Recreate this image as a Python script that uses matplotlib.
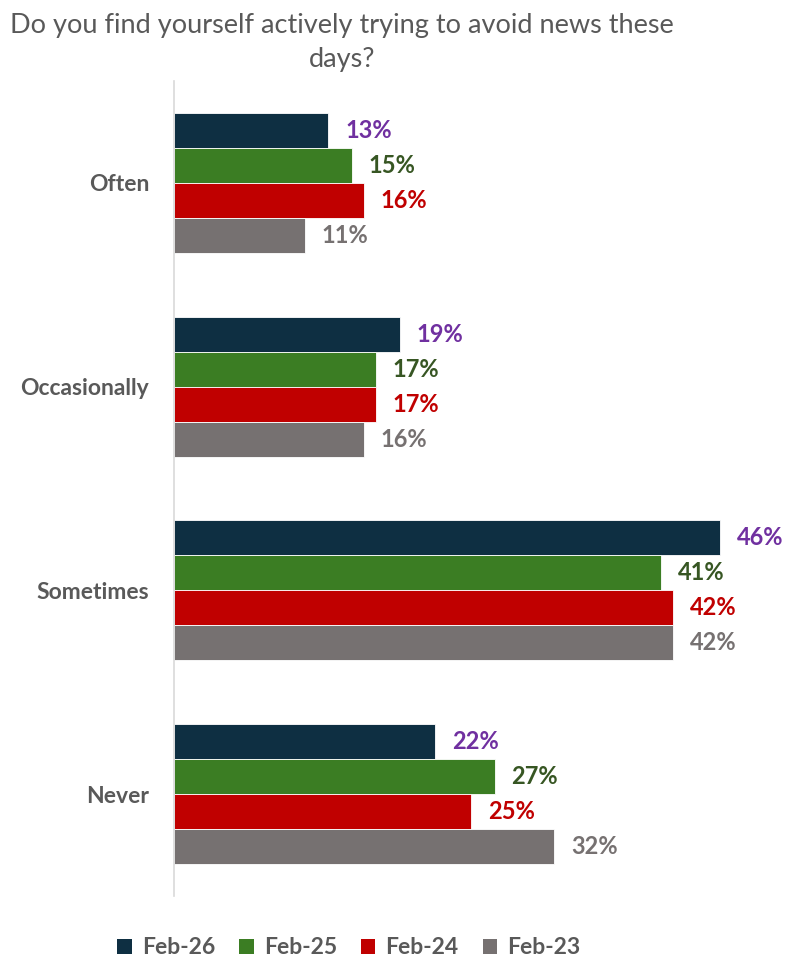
import matplotlib
matplotlib.use("Agg")
import matplotlib.pyplot as plt
from matplotlib.patches import Patch
import numpy as np

plt.rcParams['font.family'] = ['Lato', 'DejaVu Sans']

categories = ["Often", "Occasionally", "Sometimes", "Never"]
series_names = ["Feb-26", "Feb-25", "Feb-24", "Feb-23"]
feb26 = [13, 19, 46, 22]
feb25 = [15, 17, 41, 27]
feb24 = [16, 17, 42, 25]
feb23 = [11, 16, 42, 32]

bar_colors = ["#0E2F42", "#3B7D23", "#C00000", "#767171"]
label_colors = ["#7030A0", "#375623", "#C00000", "#767171"]
text_gray = "#595959"

fig = plt.figure(figsize=(7.86, 9.61), dpi=100)
ax = fig.add_axes([174 / 786, 65 / 961, 594 / 786, 815 / 961])

y = np.arange(len(categories))
h = 0.172
series = [feb26, feb25, feb24, feb23]
for i, (vals, bc, lc) in enumerate(zip(series, bar_colors, label_colors)):
    pos = y + (i - 1.5) * h
    ax.barh(pos, vals, height=h, color=bc, edgecolor="white", linewidth=0.6)
    for p, v in zip(pos, vals):
        ax.text(v + 1.4, p, f"{v}%", va="center", ha="left",
                fontsize=17, fontweight="bold", color=lc)

ax.set_xlim(0, 50)
ax.set_ylim(3.5, -0.5)
ax.set_yticks(y)
ax.set_yticklabels(categories, fontsize=16.5, fontweight="bold", color=text_gray)
ax.tick_params(axis="y", length=0, pad=18)
ax.set_xticks([])
for s in ["top", "right", "bottom"]:
    ax.spines[s].set_visible(False)
ax.spines["left"].set_color("#D9D9D9")
ax.spines["left"].set_linewidth(1.2)

fig.text(342 / 786, 1 - 25 / 961, "Do you find yourself actively trying to avoid news these",
         ha="center", va="center", fontsize=19.5, color=text_gray)
fig.text(342 / 786, 1 - 60 / 961, "days?",
         ha="center", va="center", fontsize=19.5, color=text_gray)

handles = [Patch(facecolor=c, edgecolor="none") for c in bar_colors]
leg = fig.legend(handles, series_names, loc="center", bbox_to_anchor=(349 / 786, 1 - 948 / 961),
                 ncol=4, frameon=False, fontsize=16.5, handlelength=0.62, handleheight=0.62,
                 columnspacing=1.05, handletextpad=0.45)
for t in leg.get_texts():
    t.set_color(text_gray)
    t.set_fontweight("bold")

fig.savefig("out.png", dpi=100, facecolor="white")
